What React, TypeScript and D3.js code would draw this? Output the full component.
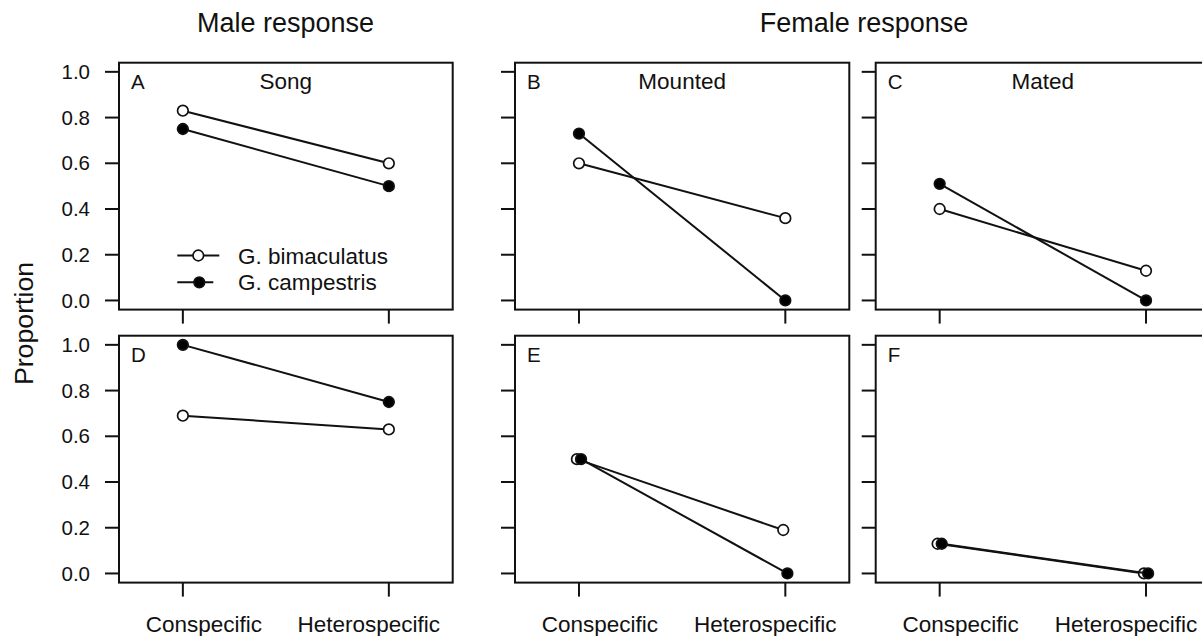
import React from "react";
import * as d3 from "d3";

const categories = ["Conspecific", "Heterospecific"];
const panelLetters = ["A", "B", "C", "D", "E", "F"];
const panelTitles = ["Song", "Mounted", "Mated", "", "", ""];
const bimaculatus = [
  [0.83, 0.60],
  [0.60, 0.36],
  [0.40, 0.13],
  [0.69, 0.63],
  [0.50, 0.19],
  [0.13, 0.00],
];
const campestris = [
  [0.75, 0.50],
  [0.73, 0.00],
  [0.51, 0.00],
  [1.00, 0.75],
  [0.50, 0.00],
  [0.13, 0.00],
];
const dodge = [0, 0, 0, 0, 0.01, 0.01];
const yTicks = [0, 0.2, 0.4, 0.6, 0.8, 1.0];
const seriesNames = ["G. bimaculatus", "G. campestris"];
const groupTitles = ["Male response", "Female response"];

const FONT = "'Liberation Sans', Arial, Helvetica, sans-serif";
const W = 1202;
const H = 636;
const colX = [[119, 452.7], [515, 849.3], [875.7, 1210]];
const rowY = [[62.7, 309.6], [335.7, 582.6]];
const SW = 2;
const R = 5.3;
const labelShift = [21, -20];

function Panel({ idx }: { idx: number }) {
  const col = idx % 3;
  const row = Math.floor(idx / 3);
  const [x0, x1] = colX[col];
  const [y0, y1] = rowY[row];
  const x = d3.scaleLinear().domain([0.69, 2.31]).range([x0, x1]);
  const y = d3.scaleLinear().domain([-0.04, 1.04]).range([y1, y0]);
  const line = d3
    .line<[number, number]>()
    .x((d) => x(d[0]))
    .y((d) => y(d[1]));
  const series = [
    { vals: bimaculatus[idx], fill: "#fff", off: -dodge[idx] },
    { vals: campestris[idx], fill: "#000", off: dodge[idx] },
  ];
  const tickLen = 14;
  return (
    <g>
      {yTicks.map((t) => (
        <g key={t}>
          <line x1={x0 - tickLen} x2={x0} y1={y(t)} y2={y(t)} stroke="#111" strokeWidth={SW} />
          {col === 0 && (
            <text x={x0 - 29} y={y(t) + 7.2} textAnchor="end" fontSize={20.5} fontFamily={FONT} fill="#111">
              {t.toFixed(1)}
            </text>
          )}
        </g>
      ))}
      {categories.map((c, i) => (
        <g key={c}>
          <line x1={x(i + 1)} x2={x(i + 1)} y1={y1} y2={y1 + tickLen} stroke="#111" strokeWidth={SW} />
          {row === 1 && (
            <text x={x(i + 1) + labelShift[i]} y={631.5} textAnchor="middle" fontSize={22.5} fontFamily={FONT} fill="#111">
              {c}
            </text>
          )}
        </g>
      ))}
      {series.map((s, si) => {
        const pts: [number, number][] = s.vals.map((v, i) => [i + 1 + s.off, v]);
        return (
          <g key={si}>
            <path d={line(pts) || ""} fill="none" stroke="#111" strokeWidth={SW} />
            {pts.map((p, i) => (
              <circle key={i} cx={x(p[0])} cy={y(p[1])} r={R} fill={s.fill} stroke="#111" strokeWidth={1.7} />
            ))}
          </g>
        );
      })}
      <rect x={x0} y={y0} width={x1 - x0} height={y1 - y0} fill="none" stroke="#111" strokeWidth={SW} />
      <text x={x0 + 12} y={y0 + 26} fontSize={20.5} fontFamily={FONT} fill="#111">
        {panelLetters[idx]}
      </text>
      {panelTitles[idx] && (
        <text x={(x0 + x1) / 2} y={y0 + 26} textAnchor="middle" fontSize={22.5} fontFamily={FONT} fill="#111">
          {panelTitles[idx]}
        </text>
      )}
      {idx === 0 && (
        <g>
          {seriesNames.map((n, i) => {
            const ly = 255.5 + i * 26.8;
            return (
              <g key={n}>
                <line x1={177.3} x2={i === 0 ? 219.3 : 213.3} y1={ly} y2={ly} stroke="#111" strokeWidth={SW} />
                <circle cx={i === 0 ? 198.3 : 199.3} cy={ly} r={R} fill={i === 0 ? "#fff" : "#000"} stroke="#111" strokeWidth={1.7} />
                <text x={238} y={ly + 8} fontSize={22.5} fontFamily={FONT} fill="#111">
                  {n}
                </text>
              </g>
            );
          })}
        </g>
      )}
    </g>
  );
}

export default function App() {
  return (
    <svg
      width={W}
      height={H}
      viewBox={`0 0 ${W} ${H}`}
      style={{ position: "absolute", left: 0, top: 0, background: "#fff" }}
    >
      <rect x={0} y={0} width={W} height={H} fill="#fff" />
      <text x={285.5} y={32} textAnchor="middle" fontSize={27} fontFamily={FONT} fill="#111">
        {groupTitles[0]}
      </text>
      <text x={864} y={32} textAnchor="middle" fontSize={27} fontFamily={FONT} fill="#111">
        {groupTitles[1]}
      </text>
      <text
        transform="translate(32.5,323.5) rotate(-90)"
        textAnchor="middle"
        fontSize={26.7}
        fontFamily={FONT}
        fill="#111"
      >
        Proportion
      </text>
      {panelLetters.map((_, i) => (
        <Panel key={i} idx={i} />
      ))}
    </svg>
  );
}
